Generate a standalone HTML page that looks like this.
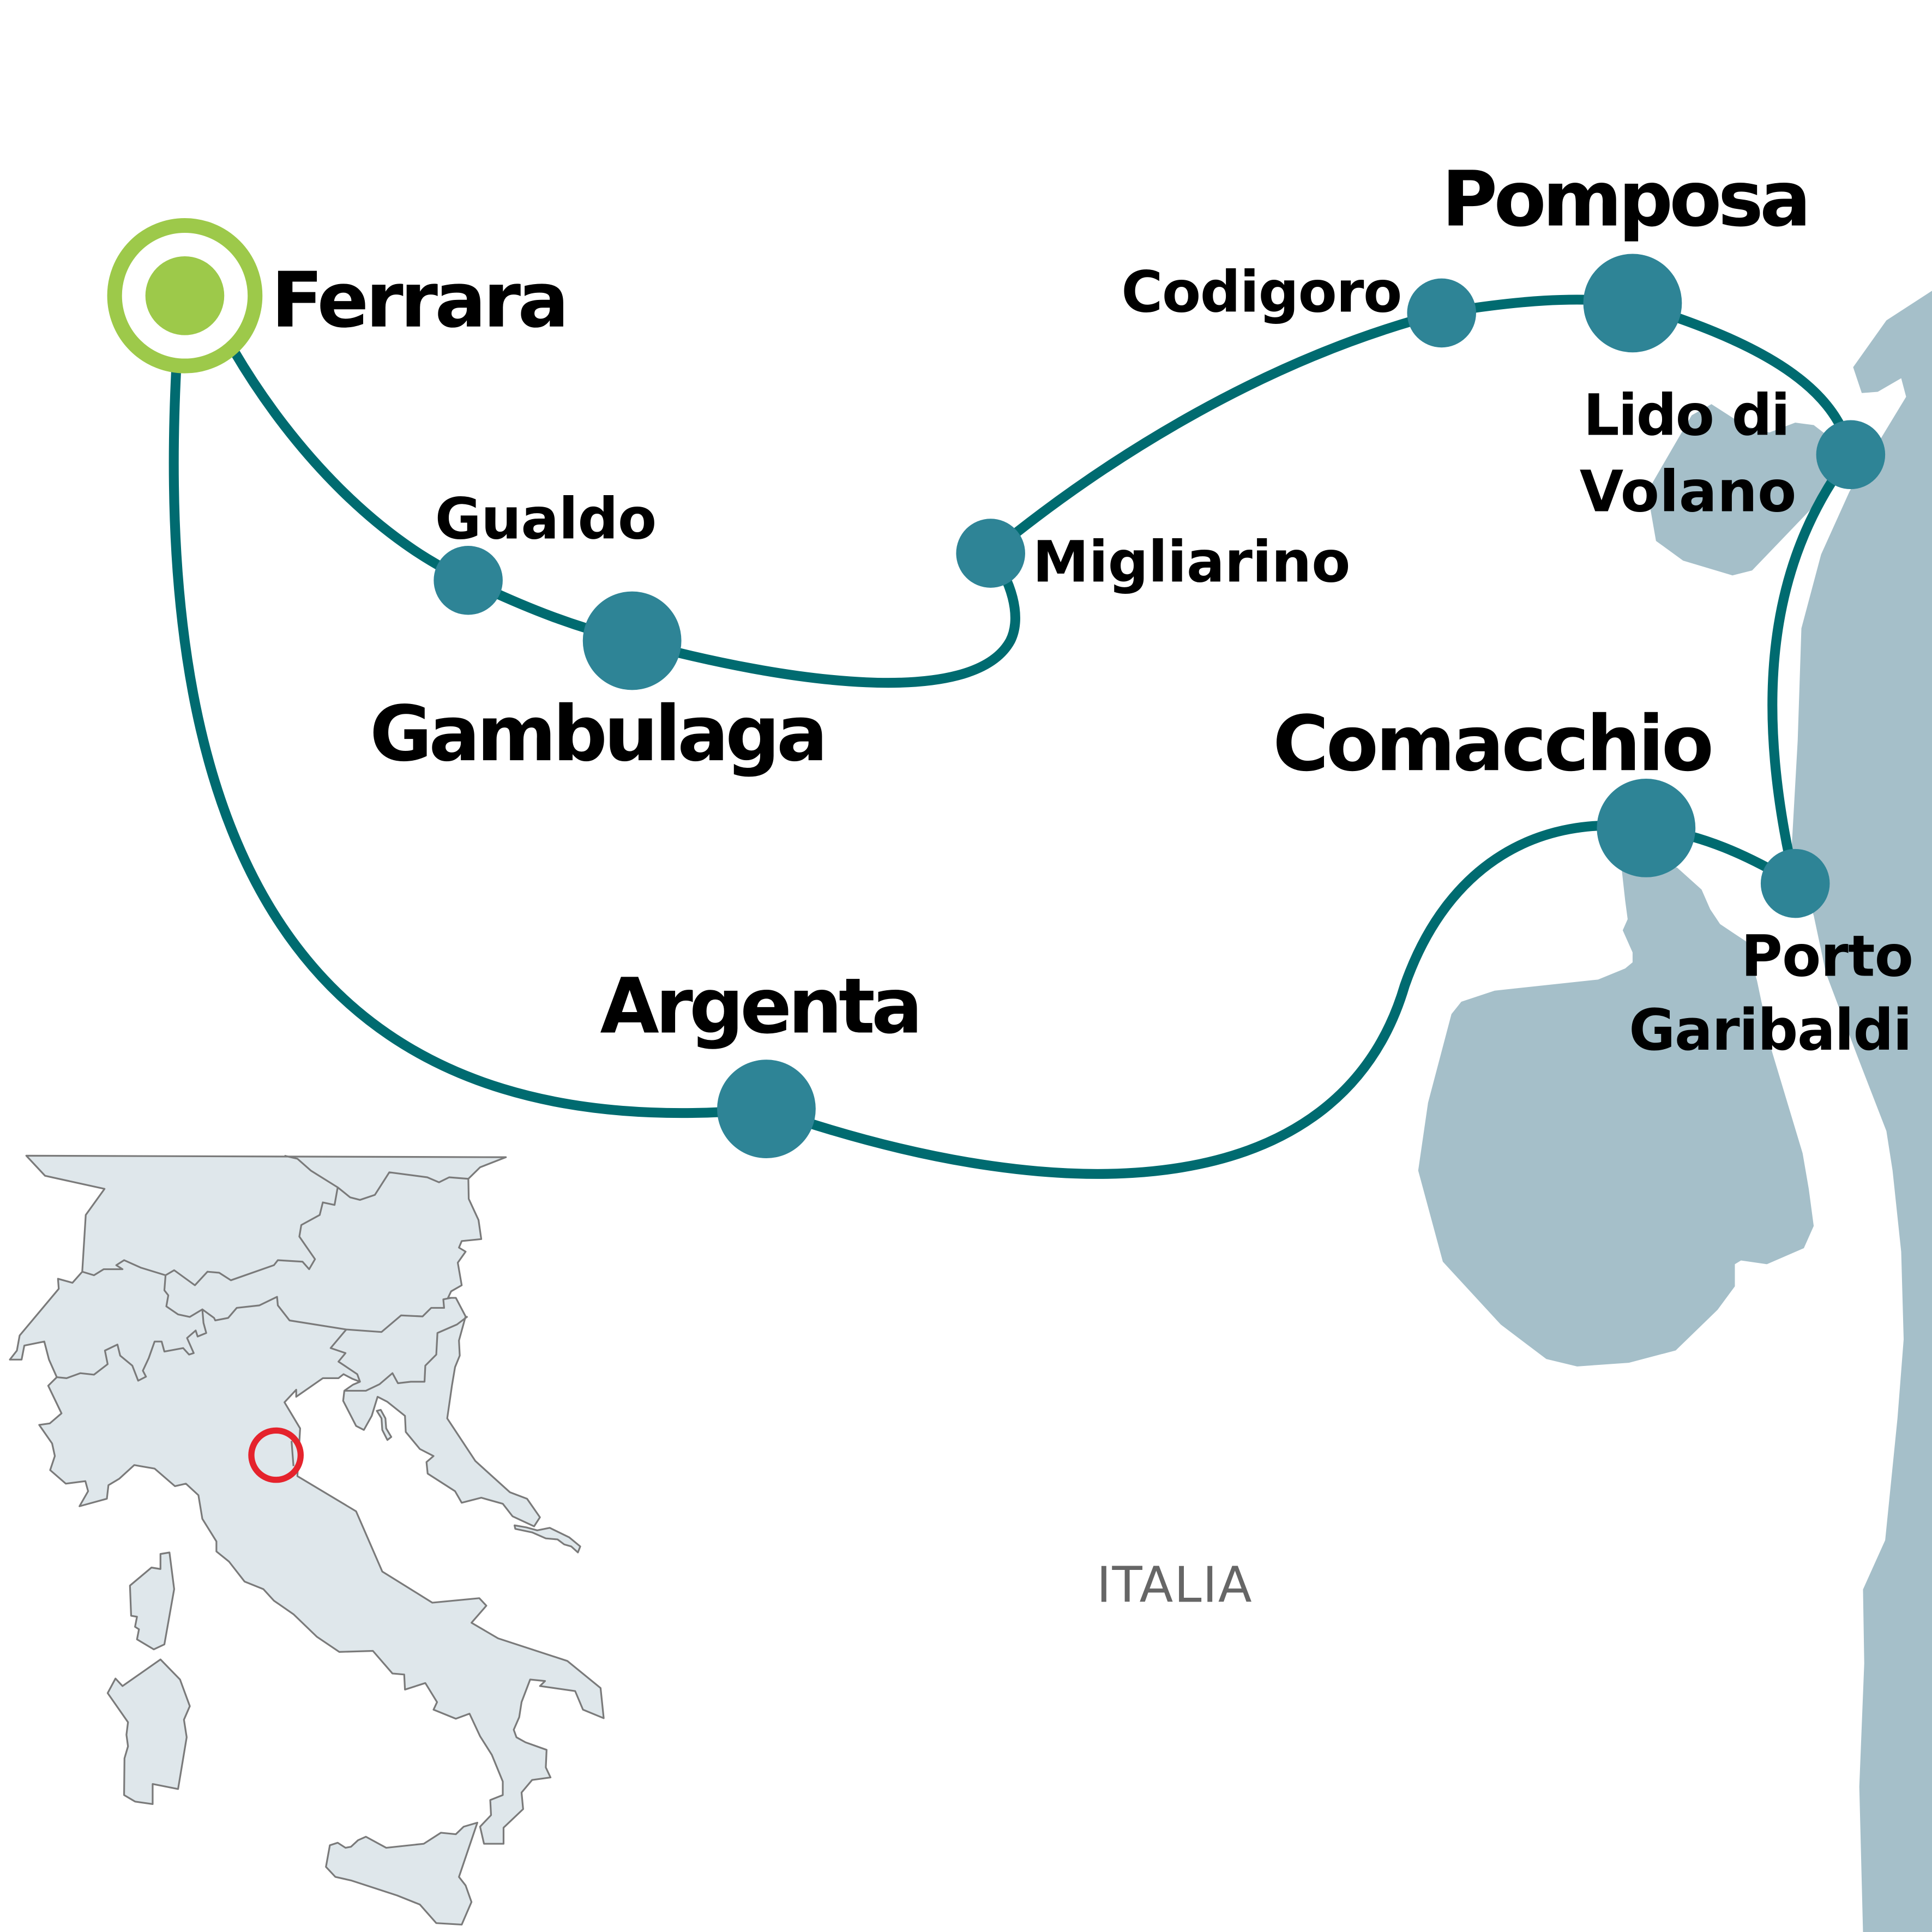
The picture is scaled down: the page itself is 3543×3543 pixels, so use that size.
<!DOCTYPE html>
<html><head><meta charset="utf-8"><style>
html,body{margin:0;padding:0;background:#fff}
svg{display:block}
text{font-family:"DejaVu Sans","Liberation Sans",sans-serif;font-weight:bold;fill:#000}
</style></head><body>
<svg width="3543" height="3543" viewBox="0 0 1568 1568" xmlns="http://www.w3.org/2000/svg">
<rect width="1568" height="1568" fill="#fff"/>
<!-- sea -->
<path fill="#a5bfc9" d="M1568,236 L1531,260 L1504,298 L1511,319 L1524,318 L1543,307 L1547,322 L1527,355 L1501,399 L1478,450 L1462,510 L1459,601 L1454,690 L1472,743 L1482,790 L1507,856 L1531,918 L1536,950 L1543,1016 L1545,1087 L1540,1151 L1530,1250 L1512,1290 L1513,1350 L1509,1450 L1512,1568 L1568,1568 Z"/>
<path fill="#a5bfc9" d="M1337,399 L1344,439 L1366,455 L1406,467 L1422,463 L1469,414 L1482,393 L1492,372 L1485,355 L1472,345 L1457,343 L1436,351 L1417,346 L1389,328 L1373,337 L1359,361 Z"/>
<path fill="#a5bfc9" d="M1316,704 L1319,731 L1321,746 L1317,755 L1325,773 L1325,781 L1319,786 L1297,795 L1213,804 L1186,813 L1178,823 L1159,895 L1151,950 L1171,1024 L1218,1075 L1255,1103 L1280,1109 L1322,1106 L1360,1096 L1394,1063 L1408,1044 L1408,1026 L1413,1023 L1434,1026 L1464,1013 L1472,995 L1468,965 L1463,936 L1438,853 L1426,796 L1417,764 L1396,750 L1388,738 L1381,722 L1361,704 Z"/>
<!-- italy inset -->
<g transform="translate(1.65,929) scale(0.3175,0.4076)" fill="#dfe7eb" stroke="#7a7a7a" stroke-width="3.2" stroke-linejoin="round">
<path vector-effect="non-scaling-stroke" d="M62,22 L110,62 L262,88 L214,140 L205,253 L180,275 L143,267 L145,287 L45,380 L38,410 L20,428 L50,428 L57,400 L108,392 L120,428 L140,463 L118,480 L152,535 L122,555 L95,558 L128,595 L135,620 L123,648 L163,675 L213,670 L220,690 L198,720 L268,705 L272,678 L300,665 L338,638 L390,645 L442,680 L470,675 L502,698 L512,745 L548,790 L548,810 L580,830 L620,870 L668,885 L695,908 L745,935 L805,980 L862,1010 L948,1008 L998,1053 L1028,1055 L1030,1085 L1082,1072 L1112,1110 L1103,1125 L1160,1143 L1195,1133 L1222,1178 L1252,1215 L1280,1268 L1280,1295 L1248,1305 L1250,1335 L1222,1358 L1232,1392 L1282,1392 L1282,1360 L1332,1323 L1328,1290 L1355,1265 L1402,1260 L1390,1240 L1392,1205 L1338,1190 L1315,1180 L1308,1165 L1322,1140 L1328,1110 L1350,1065 L1388,1068 L1375,1078 L1465,1088 L1485,1125 L1538,1142 L1530,1082 L1445,1028 L1268,983 L1200,952 L1238,918 L1220,903 L1100,912 L972,850 L905,730 L755,660 L762,565 L722,513 L752,488 L752,502 L820,465 L860,465 L873,457 L895,466 L915,472 L897,478 L875,490 L872,510 L905,560 L925,568 L945,540 L960,502 L985,512 L1030,540 L1032,572 L1068,606 L1103,620 L1085,632 L1088,655 L1158,690 L1175,713 L1225,703 L1280,715 L1305,740 L1360,760 L1375,742 L1342,705 L1298,692 L1210,630 L1138,545 L1150,480 L1158,443 L1170,420 L1168,390 L1185,342 L1160,305 L1140,305 L1148,292 L1175,280 L1165,235 L1185,213 L1168,205 L1175,192 L1225,188 L1218,150 L1193,108 L1192,68 L1222,45 L1288,25 Z"/>
<path vector-effect="non-scaling-stroke" fill="none" d="M722,22 L755,28 L790,52 L858,85 L850,120 L820,115 L812,140 L765,160 L760,183 L800,228 L785,248 L768,233 L705,230 L695,240 L585,270 L555,255 L525,253 L493,280 L440,250 L418,260 L355,245 L312,230 L292,240 L308,248 L260,248 L235,260 L205,253 M858,85 L890,105 L915,110 L953,100 L990,55 L1087,65 L1117,75 L1143,65 L1192,68 M418,260 L415,290 L425,300 L420,322 L450,338 L480,343 L512,328 L515,355 L522,375 L500,382 L495,370 L473,385 L490,415 L478,418 L463,405 L415,412 L408,392 L390,392 L375,425 L360,450 L368,462 L348,470 L333,440 L302,420 L295,398 L263,410 L270,437 L235,458 L200,455 L165,465 L140,463 M512,328 L542,345 L545,350 L578,345 L600,325 L658,320 L703,303 L705,320 L735,350 L880,368 L970,373 L1020,340 L1075,342 L1097,325 L1130,325 L1128,308 L1148,305 M880,368 L840,405 L878,415 L860,432 L908,457 L915,472 M875,490 L930,490 L965,477 L998,455 L1012,475 L1045,472 L1080,472 L1082,440 L1110,418 L1113,375 L1163,358 L1190,342 M740,590 L745,640"/>
<path vector-effect="non-scaling-stroke" d="M958,530 L968,528 L980,545 L982,565 L995,582 L985,588 L972,568 L970,545 Z"/>
<path vector-effect="non-scaling-stroke" d="M1310,758 L1340,762 L1368,768 L1400,763 L1450,782 L1478,800 L1472,812 L1455,800 L1437,796 L1420,786 L1390,784 L1355,772 L1312,765 Z"/>
<path vector-effect="non-scaling-stroke" d="M405,815 L428,812 L440,885 L415,995 L388,1005 L345,985 L350,965 L340,960 L345,940 L330,938 L327,878 L382,842 L405,845 Z"/>
<path vector-effect="non-scaling-stroke" d="M405,1025 L455,1065 L480,1118 L465,1145 L472,1180 L450,1283 L385,1273 L385,1313 L340,1308 L312,1295 L313,1222 L322,1198 L318,1175 L322,1150 L270,1092 L290,1063 L308,1078 Z"/>
<path vector-effect="non-scaling-stroke" d="M828,1438 L838,1395 L858,1390 L878,1400 L892,1398 L910,1385 L930,1378 L982,1400 L1078,1392 L1122,1370 L1160,1373 L1180,1358 L1215,1350 L1168,1458 L1185,1475 L1200,1508 L1175,1553 L1110,1550 L1068,1513 L1010,1495 L892,1465 L852,1458 Z"/>
</g>
<circle cx="224" cy="1181" r="20" fill="none" stroke="#e5232c" stroke-width="5"/>
<text x="890" y="1300" font-size="40" style="font-weight:normal;fill:#666" textLength="126">ITALIA</text>
<!-- route -->
<g fill="none" stroke="#006b70" stroke-width="8" stroke-linecap="round">
<path d="M190,285 C240,370 310,440 380,471 C430,495 470,510 513,520 C640,555 790,575 820,520 C830,500 820,470 804,449"/>
<path d="M804,449 C900,370 1030,290 1170,254 C1230,244 1280,240 1325,246 C1420,275 1490,310 1502,369 C1440,450 1420,560 1457,717 C1420,695 1380,676 1336,672 C1250,660 1175,700 1140,800 C1090,970 880,990 622,900 C300,930 120,760 143,300"/>
</g>
<g fill="#2e8496">
<circle cx="380" cy="471" r="28"/>
<circle cx="513" cy="520" r="40"/>
<circle cx="804" cy="449" r="28"/>
<circle cx="1170" cy="254" r="28"/>
<circle cx="1325" cy="246" r="40"/>
<circle cx="1502" cy="369" r="28"/>
<circle cx="1457" cy="717" r="28"/>
<circle cx="1336" cy="672" r="40"/>
<circle cx="622" cy="900" r="40"/>
</g>
<circle cx="150" cy="240" r="57" fill="#fff" stroke="#9dc94a" stroke-width="12"/>
<circle cx="150" cy="240" r="32" fill="#9dc94a"/>
<text x="220" y="265" font-size="62" textLength="242">Ferrara</text>
<text x="353" y="437" font-size="46" textLength="180">Gualdo</text>
<text x="300" y="617" font-size="62" textLength="372">Gambulaga</text>
<text x="838" y="472" font-size="46" textLength="258">Migliarino</text>
<text x="910" y="253" font-size="46" textLength="228">Codigoro</text>
<text x="1170" y="183" font-size="62" textLength="300">Pomposa</text>
<text x="1285" y="353" font-size="46" textLength="168">Lido di</text>
<text x="1282" y="415" font-size="46" textLength="176">Volano</text>
<text x="1033" y="625" font-size="62" textLength="358">Comacchio</text>
<text x="1413" y="792" font-size="46" textLength="140">Porto</text>
<text x="1322" y="852" font-size="46" textLength="230">Garibaldi</text>
<text x="487" y="838" font-size="62" textLength="262">Argenta</text>
</svg>
</body></html>
